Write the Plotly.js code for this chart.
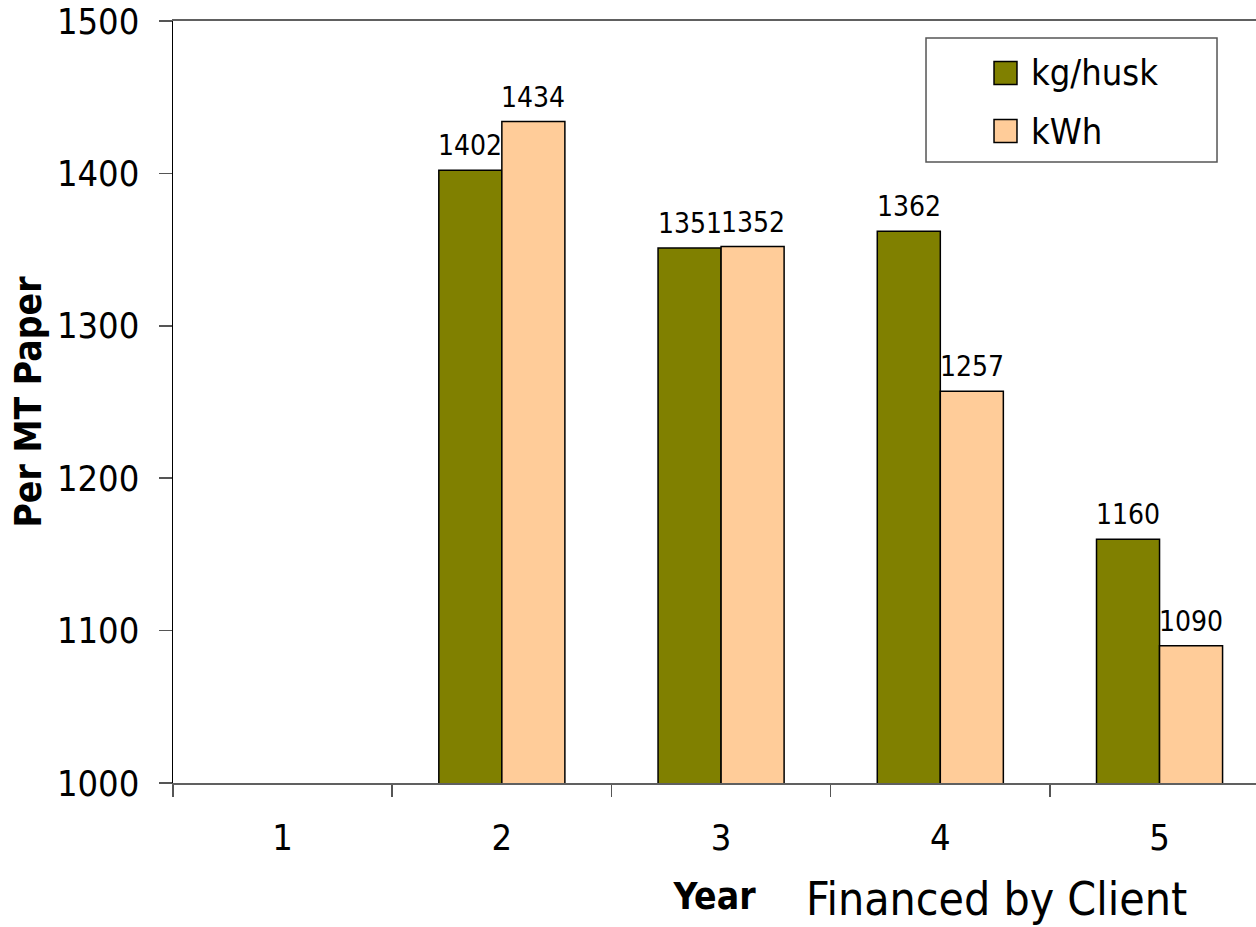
<!DOCTYPE html>
<html>
<head>
<meta charset="utf-8">
<script src="https://cdn.plot.ly/plotly-3.0.1.min.js"></script>
<style>html,body{margin:0;padding:0;background:#fff;}#chart{width:1256px;height:927px;}</style>
</head>
<body>
<div id="chart"></div>
<script>
const years = ["1", "2", "3", "4", "5"];
const kgHusk = [null, 1402, 1351, 1362, 1160];
const kWh = [null, 1434, 1352, 1257, 1090];
const seriesNames = ["kg/husk", "kWh"];
const seriesColors = ["#808000", "#FFCC99"];
const yTicks = [1000, 1100, 1200, 1300, 1400, 1500];

const FONT = "'DejaVu Sans Condensed', Tahoma, 'DejaVu Sans', sans-serif";
const series = [kgHusk, kWh];

const traces = series.map((vals, i) => ({
  type: "bar",
  x: years,
  y: vals,
  name: seriesNames[i],
  marker: {color: seriesColors[i], line: {color: "#000", width: 1.5}},
  showlegend: false,
  hoverinfo: "x+y+name"
}));

const annotations = [];
series.forEach((vals, i) => {
  vals.forEach((v, j) => {
    if (v === null) return;
    annotations.push({
      x: j, y: v, xref: "x", yref: "y",
      text: String(v), showarrow: false,
      xshift: i === 0 ? -31.5 : 31.5, yshift: 6,
      yanchor: "bottom", xanchor: "center",
      font: {family: FONT, size: 28, color: "#000"}
    });
  });
});

// "Financed by Client" note
annotations.push({
  xref: "paper", yref: "paper", x: 0.76, y: -0.152,
  text: "Financed by Client", showarrow: false,
  xanchor: "center", yanchor: "middle",
  font: {family: FONT, size: 46, color: "#000"}
});

// manual legend
const shapes = [{
  type: "rect", xref: "paper", yref: "paper",
  x0: 0.6953, x1: 0.964, y0: 0.815, y1: 0.9777,
  line: {color: "#555", width: 1.5}, fillcolor: "#fff", layer: "above"
}];
const legendRows = [0.9318, 0.8556];
seriesNames.forEach((n, i) => {
  shapes.push({
    type: "rect", xref: "paper", yref: "paper",
    x0: 0.7581, x1: 0.7793, y0: legendRows[i] - 0.0151, y1: legendRows[i] + 0.0151,
    line: {color: "#000", width: 1.5}, fillcolor: seriesColors[i], layer: "above"
  });
  annotations.push({
    xref: "paper", yref: "paper", x: 0.7905, y: legendRows[i],
    text: n, showarrow: false, xanchor: "left", yanchor: "middle",
    font: {family: FONT, size: 36, color: "#000"}
  });
});

const layout = {
  width: 1256, height: 927,
  margin: {l: 173, r: 0, t: 21, b: 144, pad: 0},
  paper_bgcolor: "#fff", plot_bgcolor: "#fff",
  font: {family: FONT, color: "#000"},
  barmode: "group", bargap: 0.425, bargroupgap: 0,
  showlegend: false,
  xaxis: {
    type: "category", range: [-0.5, 4.44],
    tickson: "boundaries", ticks: "outside", ticklen: 12, tickcolor: "#555", tickwidth: 1.5,
    showline: true, linecolor: "#606060", linewidth: 2, mirror: true,
    showgrid: false, zeroline: false,
    tickfont: {family: FONT, size: 36, color: "#000"},
    ticklabelstandoff: 22,
    title: {text: "<b>Year</b>", font: {family: FONT, size: 37, color: "#000"}, standoff: 26}
  },
  yaxis: {
    range: [1000, 1500], tickvals: yTicks, ticktext: yTicks.map(String),
    ticks: "outside", ticklen: 13, tickcolor: "#555", tickwidth: 1.5,
    showline: true, linecolor: "#000", linewidth: 1.5,
    showgrid: false, zeroline: false,
    tickfont: {family: FONT, size: 36, color: "#000"},
    ticklabelstandoff: 12,
    title: {text: "<b>Per MT Paper</b>", font: {family: FONT, size: 37, color: "#000"}, standoff: 4}
  },
  annotations: annotations,
  shapes: shapes
};

Plotly.newPlot("chart", traces, layout, {staticPlot: true, displayModeBar: false});
</script>
</body>
</html>
